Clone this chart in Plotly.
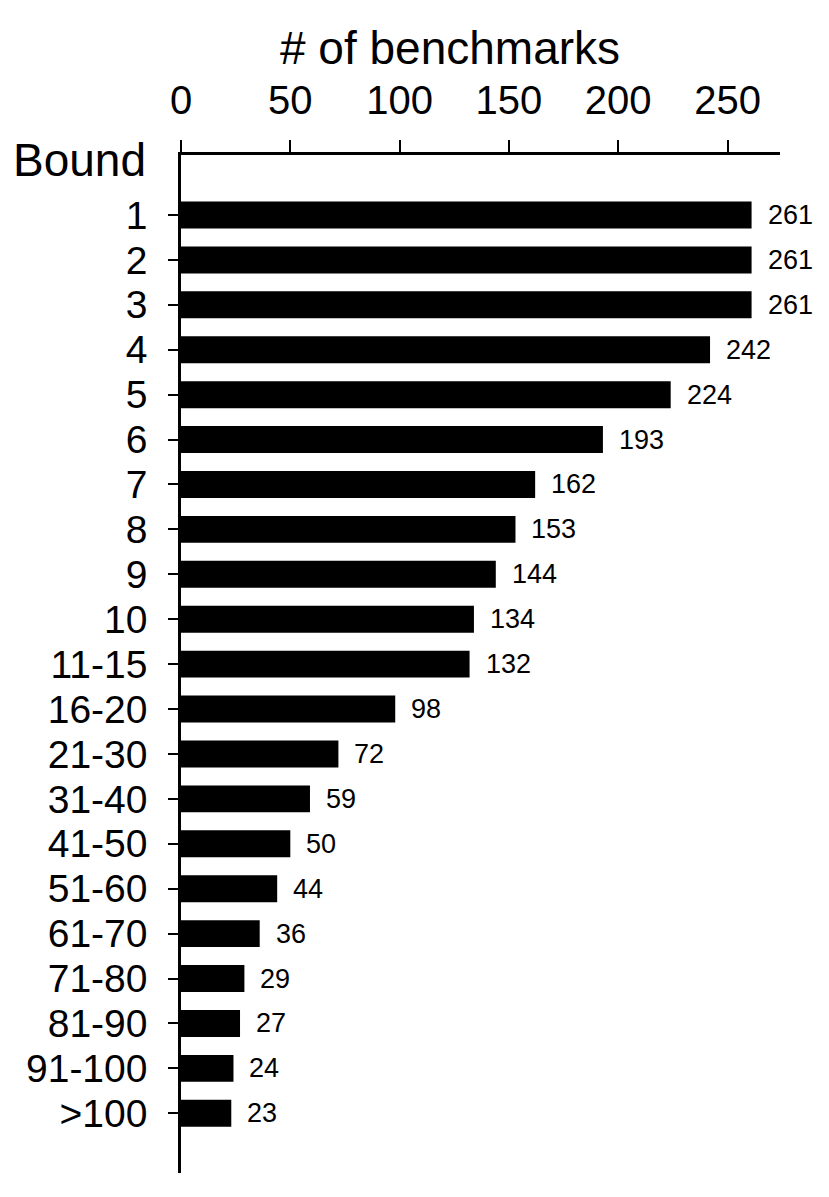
import plotly.graph_objects as go

bounds = ["1", "2", "3", "4", "5", "6", "7", "8", "9", "10", "11-15", "16-20",
          "21-30", "31-40", "41-50", "51-60", "61-70", "71-80", "81-90", "91-100", "&gt;100"]
counts = [261, 261, 261, 242, 224, 193, 162, 153, 144, 134, 132, 98,
          72, 59, 50, 44, 36, 29, 27, 24, 23]
x_ticks = [0, 50, 100, 150, 200, 250]

FONT = "Liberation Sans"

fig = go.Figure()
fig.add_trace(go.Bar(
    x=counts, y=bounds, orientation="h",
    marker=dict(color="black", line=dict(width=0)),
    width=0.6,
))

for i, c in enumerate(counts):
    fig.add_annotation(x=c, y=i, xref="x", yref="y", text=str(c),
                       showarrow=False, xanchor="left", yanchor="middle",
                       xshift=14, font=dict(family=FONT, size=27, color="black"))

fig.add_annotation(x=-33 / 599, y=1 - 5 / 1018, xref="paper", yref="paper",
                   text="Bound", showarrow=False, xanchor="right", yanchor="middle",
                   font=dict(family=FONT, size=46, color="black"))
fig.add_annotation(x=(450 - 181) / 599, y=1 + (155 - 48) / 1018, xref="paper", yref="paper",
                   text="# of benchmarks", showarrow=False, xanchor="center", yanchor="middle",
                   font=dict(family=FONT, size=46, color="black"))

fig.update_layout(
    width=821, height=1189,
    margin=dict(l=173, r=49, t=147, b=24),
    plot_bgcolor="white", paper_bgcolor="white",
    showlegend=False,
    font=dict(family=FONT, color="black"),
    xaxis=dict(
        side="top", range=[0, 274], tickvals=x_ticks,
        ticks="outside", ticklen=12, tickwidth=2, tickcolor="black",
        showline=True, linewidth=2.5, linecolor="black",
        showgrid=False, zeroline=False, automargin=False,
        tickfont=dict(family=FONT, size=40, color="black"),
        ticklabelstandoff=10,
    ),
    yaxis=dict(
        type="category", categoryorder="array", categoryarray=bounds,
        tickmode="array", tickvals=bounds, ticktext=bounds,
        range=[21.33, -1.336],
        ticks="outside", ticklen=10, tickwidth=2, tickcolor="black",
        showline=True, linewidth=2.5, linecolor="black",
        showgrid=False, zeroline=False, automargin=False,
        tickfont=dict(family=FONT, size=39, color="black"),
        ticklabelstandoff=13,
    ),
)

fig.write_html("out.html")
